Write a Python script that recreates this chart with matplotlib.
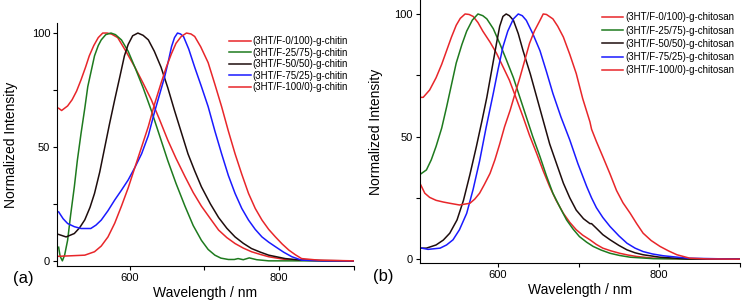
import matplotlib.pyplot as plt
from matplotlib.ticker import FixedLocator

plt.rcParams['font.family'] = ['Liberation Sans', 'DejaVu Sans']

# ---- данные: панель (a), chitin ----
labels_a = ['(3HT/F-0/100)-g-chitin', '(3HT/F-25/75)-g-chitin', '(3HT/F-50/50)-g-chitin',
            '(3HT/F-75/25)-g-chitin', '(3HT/F-100/0)-g-chitin']

a0_x = [505, 509, 517, 523, 529, 535, 541, 546, 552, 558, 564, 570, 576, 584, 595, 607, 618, 629, 640, 651, 662,
        674, 685, 696, 708, 719, 730, 741, 752, 763, 775, 786, 808, 830, 860, 900]
a0_y = [67, 66, 68, 70.7, 74.5, 79.5, 85, 90, 94.5, 98, 100, 100, 99.5, 98, 92, 85, 78, 70.7, 62, 53, 45,
        37, 30, 24, 18.5, 13.5, 10.2, 7.6, 5.6, 4, 2.8, 1.8, 0.6, 0.3, 0.1, 0]

a1_x = [505, 507, 510, 513, 517, 521, 526, 530, 535, 540, 544, 549, 553, 558, 562, 568, 575, 581, 589, 598, 607,
        618, 629, 640, 651, 662, 674, 685, 696, 705, 714, 722, 732, 740, 745, 752, 760, 770, 786, 900]
a1_y = [6, 2, 0, 2.5, 9, 20, 32.5, 44, 56, 67, 76.5, 84, 90, 94.5, 97, 99.3, 100, 99.3, 97, 92, 85,
        76, 66, 55, 44, 34, 24, 15.5, 9, 5, 2.5, 1.2, 0.6, 0.6, 1, 0.5, 1.3, 0.5, 0, 0]

a2_x = [505, 515, 526, 533, 540, 547, 553, 560, 566, 573, 580, 587, 593, 598, 604, 611, 618, 625, 633, 642, 651,
        660, 669, 678, 687, 696, 708, 719, 730, 741, 752, 763, 775, 786, 808, 830, 860, 900]
a2_y = [11.6, 10.5, 12, 14.5, 18, 23.5, 29.6, 39, 48.7, 60, 70.7, 81, 90, 95, 98.8, 100, 99, 97, 92, 85, 76,
        66, 56.5, 47, 39.5, 32.5, 25, 19, 14.3, 10.5, 7.7, 5.4, 3.8, 2.5, 1, 0.3, 0.1, 0]

a3_x = [505, 511, 517, 526, 535, 548, 555, 562, 571, 580, 589, 598, 607, 616, 625, 633, 640, 647, 652, 656, 660,
        664, 668, 672, 679, 687, 696, 705, 714, 723, 732, 741, 750, 759, 768, 777, 786, 795, 806, 817, 830,
        860, 900]
a3_y = [21.5, 18.5, 16.4, 15, 14.2, 14.2, 15.7, 17.9, 22, 26.7, 31, 35.5, 41, 47, 55, 65, 73, 81, 88, 94, 98,
        100, 99.6, 98.5, 93, 85, 76.5, 67.7, 57, 47, 37.5, 29.6, 23, 17.9, 13.8, 10.5, 8.2, 6.2, 3.8, 1.8, 0.3,
        0, 0]

a4_x = [505, 520, 540, 553, 562, 571, 580, 589, 598, 607, 616, 625, 633, 642, 649, 656, 662, 669, 676, 682, 687,
        695, 705, 714, 723, 732, 741, 750, 759, 768, 777, 786, 795, 804, 813, 822, 830, 853, 900]
a4_y = [2, 2.2, 2.5, 4, 6.5, 10.5, 16.5, 24, 32, 41, 50, 59, 68.5, 78, 85, 91, 95.5, 98.5, 100, 99.6, 98.5,
        94, 87, 77.5, 67.7, 57, 47, 38, 29.6, 23, 17.9, 13.8, 10.5, 7.4, 4.7, 2.6, 1, 0.3, 0]

# ---- данные: панель (b), chitosan ----
labels_b = ['(3HT/F-0/100)-g-chitosan', '(3HT/F-25/75)-g-chitosan', '(3HT/F-50/50)-g-chitosan',
            '(3HT/F-75/25)-g-chitosan', '(3HT/F-100/0)-g-chitosan']

b0_x = [502, 507, 511, 515, 523, 530, 536, 542, 548, 553, 559, 564, 569, 575, 581, 590, 598, 606, 614, 622, 631,
        639, 648, 656, 664, 672, 681, 689, 697, 705, 714, 722, 730, 740, 751, 761, 772, 793, 830, 900]
b0_y = [66, 66, 67.5, 69, 74, 79.5, 85, 90.5, 95.4, 98.2, 100, 99.8, 99, 96.5, 93, 88.5, 84, 78.5, 73, 66, 58,
        50.5, 43, 36, 29.6, 24, 18.7, 15, 12, 9.8, 7.9, 6, 4.5, 3.4, 2.4, 1.7, 1.1, 0.4, 0.1, 0]

b1_x = [502, 511, 517, 523, 530, 536, 542, 548, 555, 561, 568, 575, 581, 586, 594, 602, 610, 619, 627, 635, 643,
        652, 660, 668, 677, 685, 693, 701, 710, 718, 728, 739, 751, 764, 793, 830, 900]
b1_y = [34.3, 36.4, 40.5, 46, 53.5, 62, 71, 80, 87.5, 93, 97.5, 100, 99.3, 98, 94, 88, 81.5, 74, 66, 58, 50,
        41.8, 34, 26.9, 21, 16, 12.3, 9.2, 6.9, 5.2, 3.7, 2.4, 1.5, 0.8, 0.2, 0.1, 0]

b2_x = [502, 511, 523, 532, 540, 549, 557, 565, 573, 580, 586, 592, 598, 602, 606, 610, 614, 619, 625, 631, 640,
        648, 656, 664, 673, 681, 689, 697, 706, 714, 716, 722, 730, 739, 750, 760, 770, 780, 801, 835, 900]
b2_y = [4.5, 4.5, 5.8, 7.8, 10.6, 16, 24, 34.5, 45.9, 56.5, 66, 77, 88, 95, 99, 100, 99.3, 97.4, 92, 85, 75.5,
        66, 56.5, 47, 38.5, 31, 25, 20, 16.5, 14.5, 14.5, 12.6, 10, 7.9, 5.6, 3.8, 2.6, 1.8, 0.8, 0.1, 0]

b3_x = [502, 513, 528, 536, 544, 552, 561, 569, 577, 585, 594, 600, 606, 612, 619, 625, 630, 635, 643, 652, 660,
        668, 678, 689, 699, 710, 716, 722, 730, 739, 750, 760, 770, 780, 792, 805, 835, 900]
b3_y = [4.7, 4, 4.5, 5.8, 7.9, 12, 18.7, 28.5, 40, 53.5, 67.6, 77.5, 86.6, 93, 98, 100, 99.3, 97.4, 92, 85, 76.5,
        67.6, 58, 48.6, 39, 29.6, 25, 21, 17, 13.3, 9.5, 6.5, 4.5, 3.1, 2.1, 1.4, 0.4, 0]

b4_x = [502, 509, 515, 523, 532, 540, 552, 565, 571, 577, 583, 590, 596, 602, 608, 615, 621, 627, 633, 639, 645,
        652, 656, 660, 668, 674, 681, 689, 697, 705, 714, 716, 722, 730, 739, 747, 755, 764, 772, 780, 790, 801,
        812, 822, 838, 860, 900]
b4_y = [31.6, 26.9, 25.2, 24, 23.3, 22.8, 22.1, 22.8, 24.5, 26.9, 30.5, 35, 40.5, 47, 54, 60.8, 67.5, 74, 81, 88,
        93, 97.4, 100, 99.8, 98, 95, 90.6, 83.5, 75.7, 65.5, 56, 53, 48, 41.8, 34.7, 28, 23, 18.7, 14.5, 10.6, 7.6,
        5.2, 3.3, 1.8, 0.4, 0.1, 0]

colors = ['#e8262a', '#1e7a1e', '#1e0d0d', '#1a1aff', '#e8262a']

fig = plt.figure(figsize=(7.42, 3.07), dpi=100)
ax1 = fig.add_axes([0.077, 0.134, 0.400, 0.791])
ax2 = fig.add_axes([0.566, 0.143, 0.431, 0.857])

series_a = [(a0_x, a0_y), (a1_x, a1_y), (a2_x, a2_y), (a3_x, a3_y), (a4_x, a4_y)]
series_b = [(b0_x, b0_y), (b1_x, b1_y), (b2_x, b2_y), (b3_x, b3_y), (b4_x, b4_y)]

panels = [(ax1, series_a, labels_a, (-2.2, 104.4), '(a)', 0.97, 0.15, 10),
          (ax2, series_b, labels_b, (-1.6, 105.7), '(b)', 0.975, 0.33, 8)]

for ax, series, labels, ylim, letter, leg_y, spacing, ypad in panels:
    for (x, y), lab, c in zip(series, labels, colors):
        ax.plot(x, y, color=c, lw=1.1, label=lab)
    ax.set_xlim(503, 900)
    ax.set_ylim(*ylim)
    ax.spines['top'].set_visible(False)
    ax.spines['right'].set_visible(False)
    ax.set_xticks([600, 800])
    ax.xaxis.set_minor_locator(FixedLocator([700, 900]))
    ax.set_yticks([0, 50, 100])
    ax.yaxis.set_minor_locator(FixedLocator([25, 75]))
    ax.tick_params(which='both', direction='out', length=3, width=0.8, labelsize=8, pad=2)
    ax.set_xlabel('Wavelength / nm', fontsize=10, labelpad=2)
    ax.set_ylabel('Normalized Intensity', fontsize=10, labelpad=ypad)
    ax.legend(loc='upper right', fontsize=7, frameon=False, handlelength=2.2, handletextpad=0.2,
              labelspacing=spacing, borderaxespad=0.2, bbox_to_anchor=(1.0, leg_y))
    ax.text(-0.148, -0.05, letter, transform=ax.transAxes, fontsize=12, va='center')

fig.savefig('out.png', dpi=100)
